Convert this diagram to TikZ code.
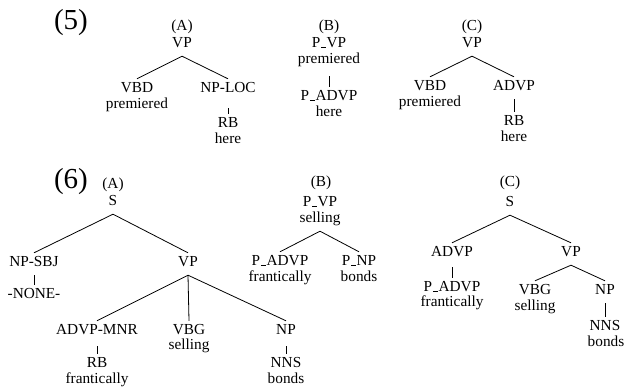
\documentclass[tikz,border=0pt]{standalone}
\usepackage{fontspec}
\setmainfont{Liberation Serif}
\newcommand{\usc}{\leavevmode\kern.05em\vbox{\hrule width.32em height .9pt}\kern.05em}
\begin{document}
\begin{tikzpicture}[x=1pt,y=-1pt,
  lab/.style={anchor=base,font=\fontsize{15.3}{16}\selectfont,inner xsep=1pt,inner ysep=3pt,text height=11pt,text depth=5pt},
  big/.style={anchor=base,font=\fontsize{29}{30}\selectfont,inner sep=0pt},
  edge/.style={line width=0.8pt}]
\useasboundingbox (0,0) rectangle (625,387);
% ---------- (5)
\node[big] (n5) at (71,30) {(5)};
% (5A)
\node[lab] (a5) at (182,31) {(A)};
\node[lab] (a5vp) at (182,48) {VP};
\node[lab] (a5vbd) at (137,93) {VBD};
\node[lab] (a5prem) at (137,109) {premiered};
\node[lab] (a5np) at (228,93) {NP-LOC};
\node[lab] (a5rb) at (228,128) {RB};
\node[lab] (a5here) at (228,144) {here};
\draw[edge] (a5vp.south) -- (a5vbd.north);
\draw[edge] (a5vp.south) -- (a5np.north);
\draw[edge,shorten <=7pt] (a5np.south) -- (a5rb.north);
% (5B)
\node[lab] (b5) at (329,31) {(B)};
\node[lab] (b5pvp) at (329,48) {P\usc VP};
\node[lab] (b5prem) at (329,64) {premiered};
\node[lab] (b5padvp) at (329,101) {P\usc ADVP};
\node[lab] (b5here) at (329,117) {here};
\draw[edge,shorten <=4pt] (b5prem.south) -- (b5padvp.north);
% (5C)
\node[lab] (c5) at (472,31) {(C)};
\node[lab] (c5vp) at (472,48) {VP};
\node[lab] (c5vbd) at (430,91) {VBD};
\node[lab] (c5prem) at (430,107) {premiered};
\node[lab] (c5advp) at (514,91) {ADVP};
\node[lab] (c5rb) at (514,126) {RB};
\node[lab] (c5here) at (514,142) {here};
\draw[edge] (c5vp.south) -- (c5vbd.north);
\draw[edge] (c5vp.south) -- (c5advp.north);
\draw[edge] (c5advp.south) -- (c5rb.north);
% ---------- (6)
\node[big] (n6) at (71,189) {(6)};
% (6A)
\node[lab] (a6) at (113,189) {(A)};
\node[lab] (a6s) at (113,206) {S};
\node[lab] (a6npsbj) at (34,267) {NP-SBJ};
\node[lab] (a6none) at (34,299) {-NONE-};
\node[lab] (a6vp) at (188,267) {VP};
\node[lab] (a6advp) at (97,335) {ADVP-MNR};
\node[lab] (a6rb) at (97,368) {RB};
\node[lab] (a6fran) at (97,383.5) {frantically};
\node[lab] (a6vbg) at (189,335) {VBG};
\node[lab] (a6sell) at (189,350) {selling};
\node[lab] (a6np) at (286,335) {NP};
\node[lab] (a6nns) at (286,368) {NNS};
\node[lab] (a6bonds) at (286,383.5) {bonds};
\draw[edge] (a6s.south) -- (a6npsbj.north);
\draw[edge] (a6s.south) -- (a6vp.north);
\draw[edge] (a6npsbj.south) -- (a6none.north);
\draw[edge] (a6vp.south) -- (a6advp.north);
\draw[edge] (a6vp.south) -- (a6vbg.north);
\draw[edge] (a6vp.south) -- (a6np.north);
\draw[edge,shorten <=3pt] (a6advp.south) -- (a6rb.north);
\draw[edge,shorten <=3pt] (a6np.south) -- (a6nns.north);
% (6B)
\node[lab] (b6) at (321,187) {(B)};
\node[lab] (b6pvp) at (320,207) {P\usc VP};
\node[lab] (b6sell) at (320,223) {selling};
\node[lab] (b6padvp) at (280,266) {P\usc ADVP};
\node[lab] (b6fran) at (280,282) {frantically};
\node[lab] (b6pnp) at (359,266) {P\usc NP};
\node[lab] (b6bonds) at (359,282) {bonds};
\draw[edge] (b6sell.south) -- (b6padvp.north);
\draw[edge] (b6sell.south) -- (b6pnp.north);
% (6C)
\node[lab] (c6) at (510,187) {(C)};
\node[lab] (c6s) at (510,207) {S};
\node[lab] (c6advp) at (452,257) {ADVP};
\node[lab] (c6padvp) at (452,292) {P\usc ADVP};
\node[lab] (c6fran) at (452,307) {frantically};
\node[lab] (c6vp) at (571,257) {VP};
\node[lab] (c6vbg) at (535,295) {VBG};
\node[lab] (c6sell) at (535,311) {selling};
\node[lab] (c6np) at (605,295) {NP};
\node[lab] (c6nns) at (605,331) {NNS};
\node[lab] (c6bonds) at (606,347) {bonds};
\draw[edge] (c6s.south) -- (c6advp.north);
\draw[edge] (c6s.south) -- (c6vp.north);
\draw[edge,shorten <=2pt] (c6advp.south) -- (c6padvp.north);
\draw[edge] (c6vp.south) -- (c6vbg.north);
\draw[edge] (c6vp.south) -- (c6np.north);
\draw[edge] (c6np.south) -- (c6nns.north);
\end{tikzpicture}
\end{document}
